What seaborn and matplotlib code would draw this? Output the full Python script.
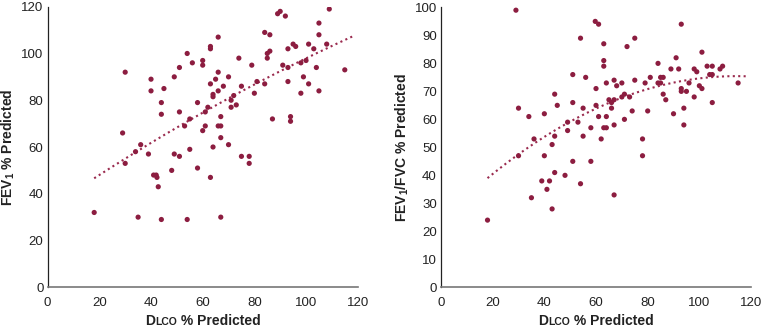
import numpy as np
import pandas as pd
import matplotlib
matplotlib.use("Agg")
import matplotlib.pyplot as plt
import seaborn as sns
from matplotlib.offsetbox import TextArea, HPacker, AnchoredOffsetbox

# ---------------- data ----------------
dlco_a = [18, 29, 30, 30, 34, 36, 35, 39, 40, 40, 45, 44, 44, 41, 42, 42.3, 42.8, 44,
          48, 49, 49, 51, 51, 51, 53, 54, 55, 55, 54, 56, 58, 58, 60, 60, 60, 61, 61,
          62, 66, 63, 63, 63, 64, 64, 64, 63, 65, 66, 66, 66, 67, 67, 67, 67, 68, 70,
          70, 71, 71, 72, 73, 74, 75, 75, 78, 78, 79, 80, 81, 84, 84, 85, 85, 86, 86,
          87, 89, 90, 92, 91, 93, 93, 93, 94, 94, 95, 96, 98, 98, 99, 100, 101, 101,
          103, 104, 105, 105, 105, 108, 109, 115]
fev1 = [32, 66, 92, 53, 58, 61, 30, 57, 89, 84, 85, 79, 74, 48, 48, 47, 43, 29,
        50, 57, 90, 94, 75, 56, 69, 100, 72, 59, 29, 96, 79, 51, 97, 95, 67, 69, 75,
        77, 107, 103, 102, 87, 82.5, 81.5, 60, 47, 89, 92, 84, 69, 69, 73, 64, 30, 86, 90,
        61, 80, 77, 82, 78, 98, 86, 56, 56, 53, 95, 83, 88, 109, 87, 100, 98, 101, 108,
        72, 117, 118, 116, 95, 102, 94, 88, 73, 71, 104, 103, 96, 83, 90, 97, 104, 87,
        102, 94, 113, 108, 84, 104, 119, 93]

dlco_b = [18, 29, 30, 30, 34, 35, 36, 39, 40, 40, 41, 42, 43, 43, 44, 44, 44, 45,
          48, 49, 49, 51, 51, 51, 53, 54, 54, 55, 55, 56, 58, 58, 59.7, 61, 60, 60, 61,
          62, 63, 63, 63, 63, 64, 64, 64, 65, 66, 66, 67, 67, 67, 67, 68, 70, 70, 71,
          71, 72, 73, 74, 75, 75, 78, 78, 79, 80, 81, 84, 84, 85, 85, 86, 86, 87, 89,
          90, 91, 92, 93, 93, 93, 94, 94, 95, 96, 98, 98, 99, 100, 101, 101, 103, 104,
          105, 105, 105, 108, 109, 115]
ratio = [24, 99, 64, 47, 61, 32, 53, 38, 62, 47, 35, 38, 51, 28, 69, 54, 41, 65,
         40, 59, 56, 76, 66, 45, 59, 89, 37, 64, 54, 75, 57, 45, 95, 94, 71, 65, 61,
         53, 87, 81, 79, 57, 57, 73, 61, 67, 66, 64, 74, 67, 58, 33, 72, 73, 68, 69,
         60, 86, 68, 63, 89, 74, 53, 47, 73, 63, 75, 80, 73, 75, 73, 75, 69, 67, 78,
         62, 82, 78, 94, 71, 70, 64, 58, 70, 73, 78, 68, 77, 72, 84, 71, 79, 76,
         76, 79, 66, 78, 79, 73]

x_ticks = [0, 20, 40, 60, 80, 100, 120]
ya_ticks = [0, 20, 40, 60, 80, 100, 120]
yb_ticks = [0, 10, 20, 30, 40, 50, 60, 70, 80, 90, 100]

df_a = pd.DataFrame({"DLCO": dlco_a, "Y": fev1})
df_b = pd.DataFrame({"DLCO": dlco_b, "Y": ratio})

# ---------------- style ----------------
sns.set_style("white")
plt.rcParams["font.family"] = ["Liberation Sans", "DejaVu Sans"]
plt.rcParams["mathtext.fontset"] = "custom"
plt.rcParams["mathtext.bf"] = "Liberation Sans:bold"
plt.rcParams["mathtext.rm"] = "Liberation Sans:bold"

DOT = "#8C1D40"
LINE = "#9A2A4E"
TXT = "#222222"

fig = plt.figure(figsize=(7.63, 3.27), dpi=100)
ax1 = fig.add_axes([0.0625, 0.1214, 0.4063, 0.8581])
ax2 = fig.add_axes([0.578, 0.1214, 0.4063, 0.8560])


def draw(ax, df, yticks, ylim, ylabel, order, lab_x):
    sns.scatterplot(data=df, x="DLCO", y="Y", ax=ax, color=DOT, s=14,
                    edgecolor="none", linewidth=0, zorder=3)
    coef = np.polyfit(df["DLCO"], df["Y"], order)
    xs = np.linspace(df["DLCO"].min(), 119, 200)
    sns.lineplot(x=xs, y=np.polyval(coef, xs), ax=ax, color=LINE,
                 linestyle=(0, (1, 1.6)), linewidth=1.5, zorder=2)
    ax.set_xlim(0, 120)
    ax.set_ylim(*ylim)
    ax.set_xticks(x_ticks)
    ax.set_yticks(yticks)
    ax.tick_params(axis="both", length=0, labelsize=9.5, colors=TXT)
    ax.tick_params(axis="x", pad=7)
    ax.tick_params(axis="y", pad=3)
    for s in ("top", "right"):
        ax.spines[s].set_visible(False)
    ax.spines["left"].set_color(TXT)
    ax.spines["left"].set_linewidth(0.9)
    ax.spines["bottom"].set_color("#777777")
    ax.spines["bottom"].set_linewidth(1.2)
    ax.set_xlabel("")
    ax.set_ylabel(ylabel, fontsize=10, fontweight="bold", color=TXT)
    ax.yaxis.set_label_coords(lab_x, 0.5)

    # x label "DLCO % Predicted" with small-caps LCO
    tp = dict(fontsize=10, fontweight="bold", color=TXT)
    tps = dict(fontsize=7.5, fontweight="bold", color=TXT)
    box = HPacker(children=[TextArea("D", textprops=tp),
                            TextArea("LCO", textprops=tps),
                            TextArea(" % Predicted", textprops=tp)],
                  align="baseline", pad=0, sep=0)
    anch = AnchoredOffsetbox(loc="upper center", child=box, pad=0, frameon=False,
                             bbox_to_anchor=(0.5, -0.095),
                             bbox_transform=ax.transAxes, borderpad=0)
    ax.add_artist(anch)


draw(ax1, df_a, ya_ticks, (0, 120), r"FEV$_\mathbf{1}$ % Predicted", 2, -0.100)
draw(ax2, df_b, yb_ticks, (0, 100), r"FEV$_\mathbf{1}$/FVC % Predicted", 2, -0.098)

fig.savefig("out.png", dpi=100)
